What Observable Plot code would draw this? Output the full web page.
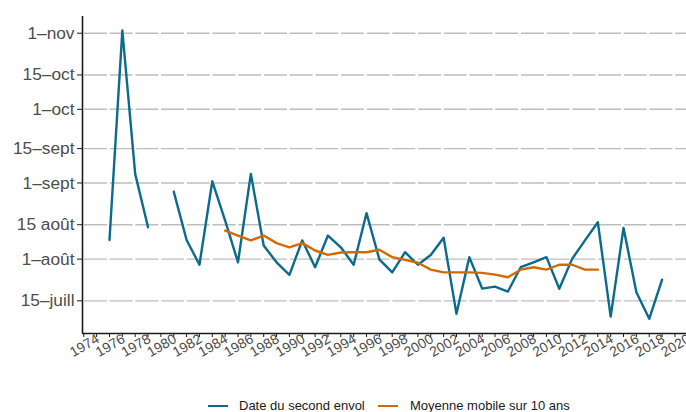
<!DOCTYPE html>
<html><head><meta charset="utf-8">
<script src="https://cdn.jsdelivr.net/npm/d3@7"></script>
<script src="https://cdn.jsdelivr.net/npm/@observablehq/plot@0.6"></script>
<style>
body{margin:0;background:#fff;font-family:"Liberation Sans",Arial,sans-serif;}
#wrap{position:relative;width:686px;height:412px;overflow:hidden}
.leg{position:absolute;top:395px;height:22px;line-height:22px;font-size:13px;color:#1a1a1a;white-space:nowrap}
.sw{position:absolute;top:10px;width:20px;height:0;border-top:2.4px solid}
</style></head><body><div id="wrap"></div>
<script>
// Years of observation (1980 missing)
const years = [1976,1977,1978,1979,1980,1981,1982,1983,1984,1985,1986,1987,1988,1989,1990,1991,1992,1993,1994,1995,1996,1997,1998,1999,2000,2001,2002,2003,2004,2005,2006,2007,2008,2009,2010,2011,2012,2013,2014,2015,2016,2017,2018,2019];
// Date of second flight, as day of year
const secondEnvol = [220.8,306.1,247.7,226.0,null,240.5,220.8,210.7,244.7,228.7,211.7,247.7,218.5,211.7,206.6,220.6,209.7,222.6,217.8,210.7,231.7,212.9,207.6,215.8,210.7,214.7,221.7,190.7,213.8,201.0,201.8,199.8,209.7,211.7,213.8,200.9,213.1,220.6,228.0,189.6,225.7,199.5,188.7,204.6];
// 10-year moving average
const maYears = [1985,1986,1987,1988,1989,1990,1991,1992,1993,1994,1995,1996,1997,1998,1999,2000,2001,2002,2003,2004,2005,2006,2007,2008,2009,2010,2011,2012,2013,2014];
const maValues = [224.6,222.6,220.6,222.6,219.5,217.8,219.5,216.5,214.7,215.7,215.8,215.8,216.8,213.8,212.7,211.5,208.7,207.6,207.6,207.6,207.4,206.7,205.6,208.7,209.7,208.7,210.7,210.7,208.7,208.7];
// Axis ticks
const yTickDays = [196,213,227,244,258,274,288,305];
const yTickLabels = ["15–juill","1–août","15 août","1–sept","15–sept","1–oct","15–oct","1–nov"];
const xTickYears = [1974,1975,1976,1977,1978,1979,1980,1981,1982,1983,1984,1985,1986,1987,1988,1989,1990,1991,1992,1993,1994,1995,1996,1997,1998,1999,2000,2001,2002,2003,2004,2005,2006,2007,2008,2009,2010,2011,2012,2013,2014,2015,2016,2017,2018,2019,2020];
const xLabelYears = [1974,1976,1978,1980,1982,1984,1986,1988,1990,1992,1994,1996,1998,2000,2002,2004,2006,2008,2010,2012,2014,2016,2018,2020];
const seriesNames = ["Date du second envol","Moyenne mobile sur 10 ans"];
const seriesColors = ["#0b6b8c","#d26a00"];

const xDomain = [1973.9, 2020.9];
const yDomain = [182.7, 311.8];

const envolData = years.map((y,i)=>({year:y, day:secondEnvol[i]}));
const maData = maYears.map((y,i)=>({year:y, day:maValues[i]}));

const svg = Plot.plot({
  width: 686, height: 385,
  marginLeft: 82, marginRight: 0, marginTop: 16, marginBottom: 52,
  style: {fontFamily: '"Liberation Sans", Arial, sans-serif', background: "white", color: "#1a1a1a"},
  x: {domain: xDomain, axis: null},
  y: {domain: yDomain, axis: null},
  marks: [
    Plot.ruleY(yTickDays, {y: d=>d, stroke: "#bdbdbd", strokeWidth: 1.4, strokeDasharray: "23,2.7", strokeDashoffset: 23.7}),
    Plot.axisY({ticks: yTickDays, tickFormat: d => yTickLabels[yTickDays.indexOf(d)], tickSize: 5, tickPadding: 3, fontSize: 17.3, label: null}),
    Plot.axisX({ticks: xTickYears, tickFormat: () => "", tickSize: 4, label: null}),
    Plot.text(xLabelYears, {x: d=>d, text: d=>String(d), frameAnchor: "bottom", dy: 16, dx: 3, rotate: -30, textAnchor: "middle", fontSize: 14, fill: "#4d4d4d"}),
    Plot.ruleX([xDomain[0]], {stroke: "#1a1a1a", strokeWidth: 1.6}),
    Plot.ruleY([yDomain[0]], {stroke: "#1a1a1a", strokeWidth: 1.6}),
    Plot.line(envolData, {x: "year", y: "day", stroke: seriesColors[0], strokeWidth: 2.4}),
    Plot.line(maData, {x: "year", y: "day", stroke: seriesColors[1], strokeWidth: 2.4})
  ]
});
d3.select(svg).selectAll('[aria-label="y-axis tick label"] text').attr("fill", "#4d4d4d");
const wrap = document.getElementById("wrap");
wrap.appendChild(svg);
const legPos = [{sw:208, tx:239},{sw:378, tx:410}];
seriesNames.forEach((name,i)=>{
  const s = document.createElement("div");
  s.className = "leg"; s.style.left = legPos[i].sw + "px"; s.style.width = "20px";
  const line = document.createElement("div"); line.className = "sw"; line.style.borderTopColor = seriesColors[i];
  s.appendChild(line); wrap.appendChild(s);
  const t = document.createElement("div");
  t.className = "leg"; t.style.left = legPos[i].tx + "px"; t.textContent = name;
  wrap.appendChild(t);
});
</script></body></html>
